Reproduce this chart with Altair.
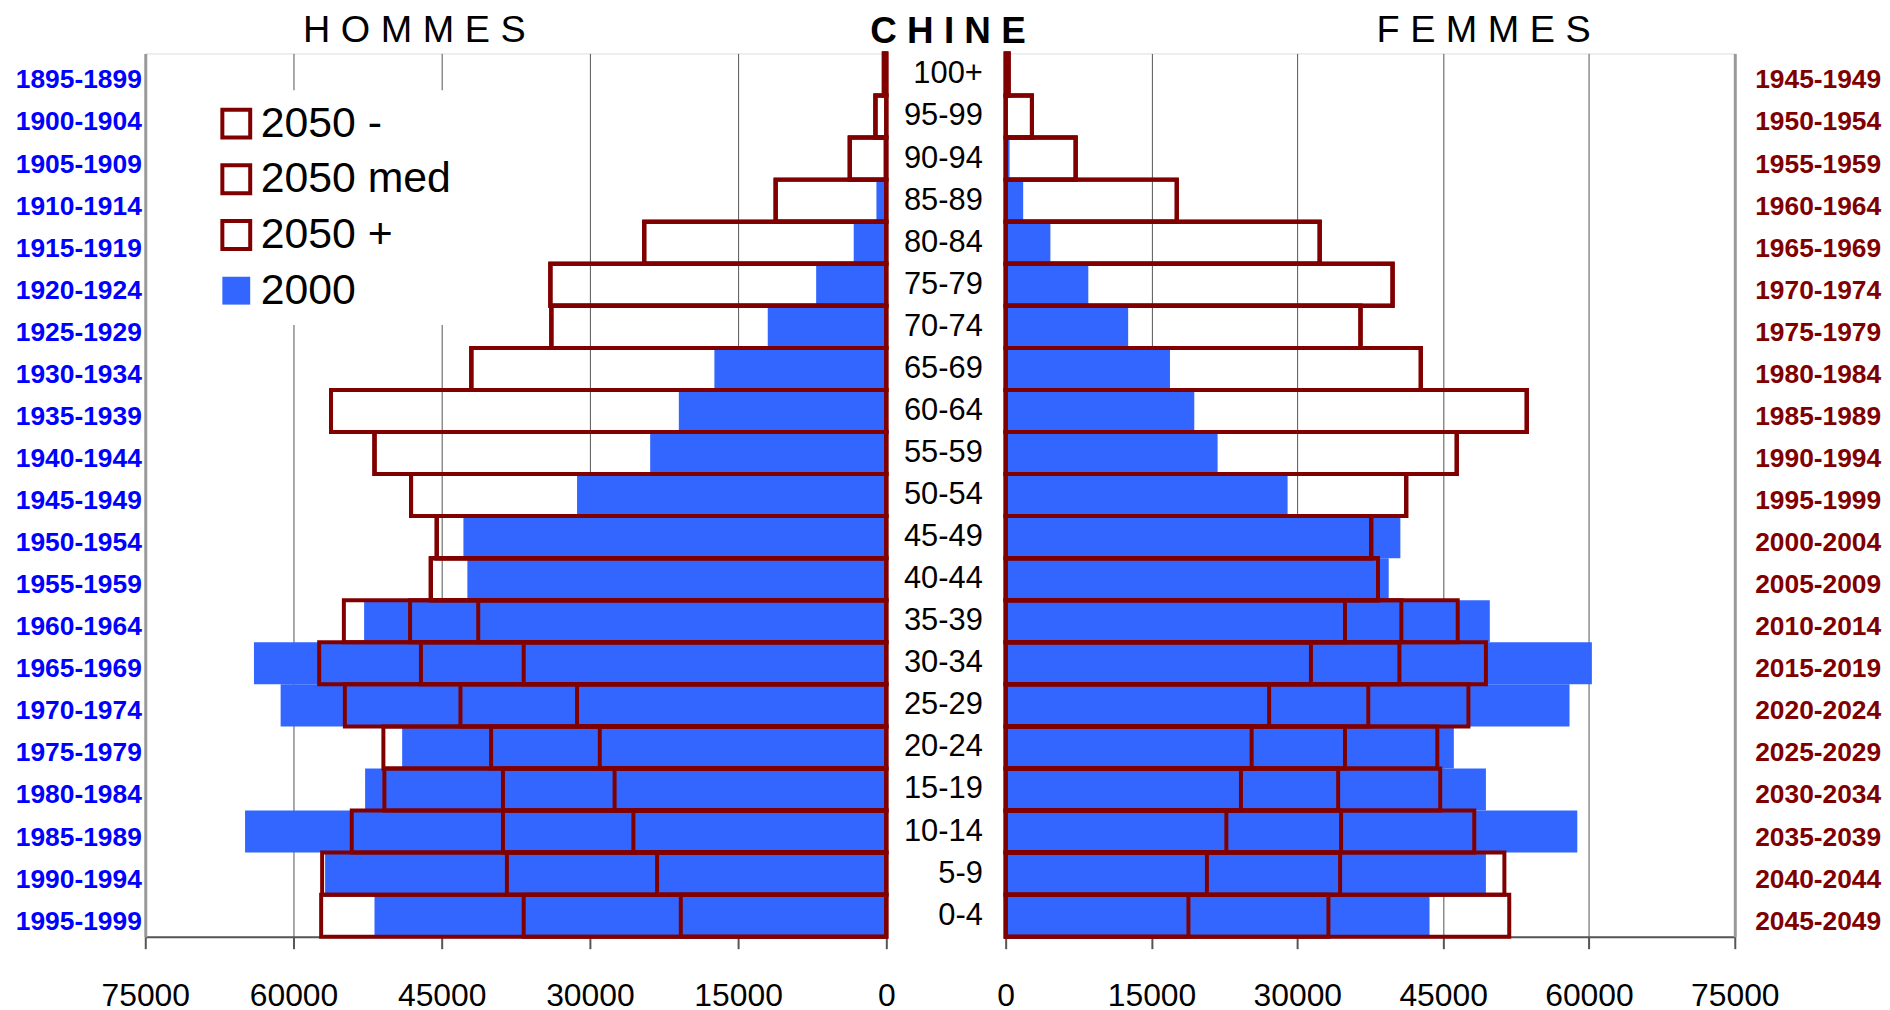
import altair as alt
import pandas as pd

FONT = "Liberation Sans"
BLUE = "#3366FF"
RED = "#800000"

ages = ["100+", "95-99", "90-94", "85-89", "80-84", "75-79", "70-74", "65-69",
        "60-64", "55-59", "50-54", "45-49", "40-44", "35-39", "30-34", "25-29",
        "20-24", "15-19", "10-14", "5-9", "0-4"]

cohorts_2000 = ["1895-1899", "1900-1904", "1905-1909", "1910-1914", "1915-1919",
                "1920-1924", "1925-1929", "1930-1934", "1935-1939", "1940-1944",
                "1945-1949", "1950-1954", "1955-1959", "1960-1964", "1965-1969",
                "1970-1974", "1975-1979", "1980-1984", "1985-1989", "1990-1994",
                "1995-1999"]

cohorts_2050 = ["1945-1949", "1950-1954", "1955-1959", "1960-1964", "1965-1969",
                "1970-1974", "1975-1979", "1980-1984", "1985-1989", "1990-1994",
                "1995-1999", "2000-2004", "2005-2009", "2010-2014", "2015-2019",
                "2020-2024", "2025-2029", "2030-2034", "2035-2039", "2040-2044",
                "2045-2049"]

series_names = ["2050 -", "2050 med", "2050 +", "2000"]

# HOMMES (milliers), top (100+) to bottom (0-4)
men_2000 = [20, 80, 300, 1000, 3300, 7100, 12000, 17400, 21000, 23900, 31300,
            42800, 42400, 52850, 64000, 61300, 49000, 52750, 64900, 56800, 51800]
men_2050_low = [250, 1100, 3700, 11200, 24500, 34000, 33900, 42000, 56200, 51800, 48100,
                45500, 46100, 41300, 36700, 31300, 29000, 27500, 25600, 23200, 20800]
men_2050_med = [250, 1100, 3700, 11200, 24500, 34000, 33900, 42000, 56200, 51800, 48100,
                45500, 46100, 48200, 47100, 43100, 40000, 38800, 38800, 38400, 36700]
men_2050_high = [250, 1100, 3700, 11200, 24500, 34000, 33900, 42000, 56200, 51800, 48100,
                 45500, 46100, 54900, 57400, 54800, 50900, 50800, 54100, 57100, 57200]

# FEMMES (milliers)
women_2000 = [30, 100, 400, 1800, 4600, 8500, 12600, 16900, 19400, 21800, 29000,
              40600, 39400, 49800, 60300, 58000, 46100, 49400, 58800, 49400, 43600]
women_2050_low = [300, 2700, 7200, 17600, 32300, 39800, 36500, 42700, 53600, 46400, 41200,
                  37600, 38300, 34900, 31400, 27100, 25300, 24200, 22700, 20700, 18800]
women_2050_med = [300, 2700, 7200, 17600, 32300, 39800, 36500, 42700, 53600, 46400, 41200,
                  37600, 38300, 40700, 40500, 37300, 34900, 34200, 34500, 34400, 33200]
women_2050_high = [300, 2700, 7200, 17600, 32300, 39800, 36500, 42700, 53600, 46400, 41200,
                   37600, 38300, 46500, 49400, 47600, 44400, 44700, 48200, 51300, 51800]

tick_values = [0, 15000, 30000, 45000, 60000, 75000]


def build(cohorts, v2000, vlow, vmed, vhigh):
    rows = []
    for i, a in enumerate(ages):
        rows.append({"age": a, "cohort": cohorts[i], "series": "2000", "value": v2000[i]})
    for name, vals in [("2050 +", vhigh), ("2050 med", vmed), ("2050 -", vlow)]:
        for i, a in enumerate(ages):
            rows.append({"age": a, "cohort": cohorts[i], "series": name, "value": vals[i]})
    return pd.DataFrame(rows)


df_m = build(cohorts_2000, men_2000, men_2050_low, men_2050_med, men_2050_high)
df_f = build(cohorts_2050, women_2000, women_2050_low, women_2050_med, women_2050_high)
df_age = pd.DataFrame({"age": ages})

fill_scale = alt.Scale(domain=series_names,
                       range=["transparent", "transparent", "transparent", BLUE])
stroke_scale = alt.Scale(domain=series_names,
                         range=[RED, RED, RED, "transparent"])
band = alt.Scale(paddingInner=0, paddingOuter=0)


def x_axis():
    return alt.Axis(values=tick_values, format="d", title=None, grid=True,
                    gridColor="#555555", gridWidth=1, domainColor="#555555",
                    domainWidth=2, tickColor="#555555", tickSize=12, tickWidth=2,
                    labelFontSize=32, labelFont=FONT, labelColor="black",
                    labelPadding=32, labelFlush=False, labelOverlap=False)


def y_axis(orient, color, pad):
    return alt.Axis(orient=orient, title=None, ticks=False, labelFontSize=26.5,
                    labelFontWeight="bold", labelColor=color, labelFont=FONT,
                    labelPadding=pad, labelOffset=6, domainColor="#999999",
                    domainWidth=3)


legend = alt.Legend(orient="none", legendX=58, legendY=37, title=None,
                    symbolType="square", symbolSize=784, symbolStrokeWidth=4,
                    labelFontSize=43, labelFont=FONT, labelColor="black",
                    labelLimit=400, fillColor="white", padding=12, rowPadding=11,
                    labelOffset=3)

left = alt.Chart(df_m).mark_bar(strokeWidth=4).encode(
    y=alt.Y("cohort:N", sort=cohorts_2000, scale=band,
            axis=y_axis("left", "#0000FF", 4)),
    x=alt.X("value:Q", stack=None,
            scale=alt.Scale(domain=[0, 75000], reverse=True, nice=False),
            axis=x_axis()),
    fill=alt.Fill("series:N", scale=fill_scale, legend=legend),
    stroke=alt.Stroke("series:N", scale=stroke_scale, legend=legend),
).properties(
    width=745, height=888,
    title=alt.TitleParams("H O M M E S", fontSize=38, fontWeight="normal", font=FONT,
                          color="black", anchor="middle", frame="group", dx=-102,
                          offset=-28, baseline="alphabetic"),
)

mid = alt.Chart(df_age).mark_text(fontSize=31, font=FONT, align="right",
                                   baseline="middle", color="black").encode(
    y=alt.Y("age:N", sort=ages, scale=band, axis=None),
    x=alt.value(97),
    text="age:N",
).properties(
    width=120, height=888,
    view=alt.ViewBackground(strokeOpacity=0),
    title=alt.TitleParams("C H I N E", fontSize=37, fontWeight="bold", font=FONT,
                          color="black", anchor="middle", frame="group", dx=2,
                          offset=-26, baseline="alphabetic"),
)

right = alt.Chart(df_f).mark_bar(strokeWidth=4).encode(
    y=alt.Y("cohort:N", sort=cohorts_2050, scale=band,
            axis=y_axis("right", RED, 20)),
    x=alt.X("value:Q", stack=None,
            scale=alt.Scale(domain=[0, 75000], nice=False),
            axis=x_axis()),
    fill=alt.Fill("series:N", scale=fill_scale, legend=None),
    stroke=alt.Stroke("series:N", scale=stroke_scale, legend=None),
).properties(
    width=733, height=888,
    title=alt.TitleParams("F E M M E S", fontSize=38, fontWeight="normal", font=FONT,
                          color="black", anchor="middle", frame="group", dx=114,
                          offset=-28, baseline="alphabetic"),
)

chart = alt.hconcat(left, mid, right, spacing=0, bounds="flush").resolve_scale(
    x="independent", y="independent", fill="independent", stroke="independent"
).resolve_legend(
    fill="independent", stroke="independent"
).properties(
    padding={"left": 6, "top": 0, "right": 0, "bottom": 0}
).configure_view(
    stroke="#999999", strokeWidth=2
).configure(font=FONT)

chart.save("out.html", embed_options={"renderer": "svg", "actions": False})
